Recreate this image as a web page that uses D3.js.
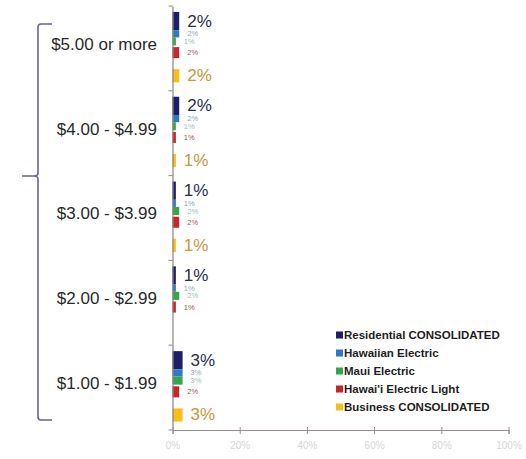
<!DOCTYPE html>
<html>
<head>
<meta charset="utf-8">
<script src="https://cdn.jsdelivr.net/npm/d3@7"></script>
<style>
  html, body { margin: 0; padding: 0; background: #ffffff; }
  svg { display: block; font-family: "Liberation Sans", Arial, sans-serif; }
</style>
</head>
<body>
<svg id="chart" width="526" height="459"></svg>
<script>
// Price bands (top to bottom)
const categories = ["$5.00 or more", "$4.00 - $4.99", "$3.00 - $3.99", "$2.00 - $2.99", "$1.00 - $1.99"];

// Series names, in drawing order within each band
const seriesNames = ["Residential CONSOLIDATED", "Hawaiian Electric", "Maui Electric", "Hawai'i Electric Light", "Business CONSOLIDATED"];

// Share of respondents (%) per price band
const residential = [2, 2, 1, 1, 3];
const hawaiian    = [2, 2, 1, 1, 3];
const maui        = [1, 1, 2, 2, 3];
const hel         = [2, 1, 2, 1, 2];
const business    = [2, 1, 1, null, 3];

const xTicks = [0, 20, 40, 60, 80, 100];

const seriesValues = [residential, hawaiian, maui, hel, business];

// Visual styling per series
const barColors   = ["#1c1f66", "#2f78c4", "#33a84a", "#c6252b", "#f6bf1a"];
const labelColors = ["#2b2d4d", "#8da6bd", "#98bfae", "#a4554f", "#c8973a"];
const labelSizes  = [17, 7.5, 7.5, 7.5, 17];
// Bar placement inside each band (fraction of band height: top, height)
const barSlots = [[0.07, 0.215], [0.285, 0.085], [0.37, 0.095], [0.485, 0.13], [0.745, 0.155]];

const svg = d3.select("#chart");

const x = d3.scaleLinear().domain([0, 100]).range([172.5, 508.5]);
const y = d3.scaleBand().domain(categories).range([6, 430]).padding(0);
const bw = y.bandwidth();

// Bracket grouping the price bands
const bx = 38, bTop = 24, bBot = 420, bMid = 176;
svg.append("path")
  .attr("d", `M52,${bTop} L${bx + 3},${bTop} Q${bx},${bTop} ${bx},${bTop + 3} L${bx},${bMid - 3} Q${bx},${bMid} ${bx - 4},${bMid} L22,${bMid}` +
             ` M22,${bMid} L${bx - 4},${bMid} Q${bx},${bMid} ${bx},${bMid + 3} L${bx},${bBot - 3} Q${bx},${bBot} ${bx + 3},${bBot} L52,${bBot}`)
  .attr("fill", "none")
  .attr("stroke", "#6e5e9c")
  .attr("stroke-width", 1.6);

// Category labels
svg.append("g").selectAll("text")
  .data(categories)
  .join("text")
  .attr("x", 157)
  .attr("y", d => y(d) + bw / 2 - 3)
  .attr("text-anchor", "end")
  .attr("dominant-baseline", "middle")
  .attr("font-size", 17)
  .attr("fill", "#2a2a2a")
  .text(d => d);

// Bars and value labels
seriesValues.forEach((vals, si) => {
  const g = svg.append("g");
  const pts = categories.map((c, i) => ({ c, v: vals[i] })).filter(d => d.v != null);
  g.selectAll("rect")
    .data(pts)
    .join("rect")
    .attr("x", x(0))
    .attr("y", d => y(d.c) + barSlots[si][0] * bw)
    .attr("width", d => x(d.v) - x(0))
    .attr("height", barSlots[si][1] * bw)
    .attr("fill", barColors[si]);
  g.selectAll("text")
    .data(pts)
    .join("text")
    .attr("x", d => x(d.v) + 8)
    .attr("y", d => y(d.c) + (barSlots[si][0] + barSlots[si][1] / 2) * bw)
    .attr("dominant-baseline", "central")
    .attr("font-size", labelSizes[si])
    .attr("fill", labelColors[si])
    .text(d => d.v + "%");
});

// Vertical category axis
const yAxis = d3.axisLeft(y).tickSize(0).tickFormat("");
const yg = svg.append("g").attr("transform", `translate(${x(0)},0)`).call(yAxis);
yg.select(".domain").attr("stroke", "#8c8484").attr("stroke-width", 1.2);
// Band divider ticks
svg.append("g").selectAll("line")
  .data(categories.map(c => y(c)).concat([430]))
  .join("line")
  .attr("x1", x(0) - 4).attr("x2", x(0))
  .attr("y1", d => d).attr("y2", d => d)
  .attr("stroke", "#8c8484");

// Horizontal value axis
const xAxis = d3.axisBottom(x).tickValues(xTicks).tickSize(4).tickPadding(8).tickFormat(d => d + "%");
const xg = svg.append("g").attr("transform", "translate(0,430)").call(xAxis);
xg.select(".domain").attr("stroke", "#9a8f8f").attr("stroke-width", 1.2);
xg.selectAll(".tick line").attr("stroke", "#9a8f8f").attr("y1", -3);
xg.selectAll(".tick text").attr("fill", "#d6d6d6").attr("font-size", 10).attr("font-family", "Liberation Sans, Arial, sans-serif");

// Legend
const legend = svg.append("g").attr("transform", "translate(336,335)");
seriesNames.forEach((name, i) => {
  const row = legend.append("g").attr("transform", `translate(0,${i * 18})`);
  row.append("rect").attr("x", 0).attr("y", -3.5).attr("width", 7).attr("height", 7).attr("fill", barColors[i]);
  row.append("text")
    .attr("x", 8)
    .attr("y", 0)
    .attr("dominant-baseline", "central")
    .attr("font-size", 11.5)
    .attr("font-weight", "bold")
    .attr("fill", "#1e1e1e")
    .text(name);
});
</script>
</body>
</html>
